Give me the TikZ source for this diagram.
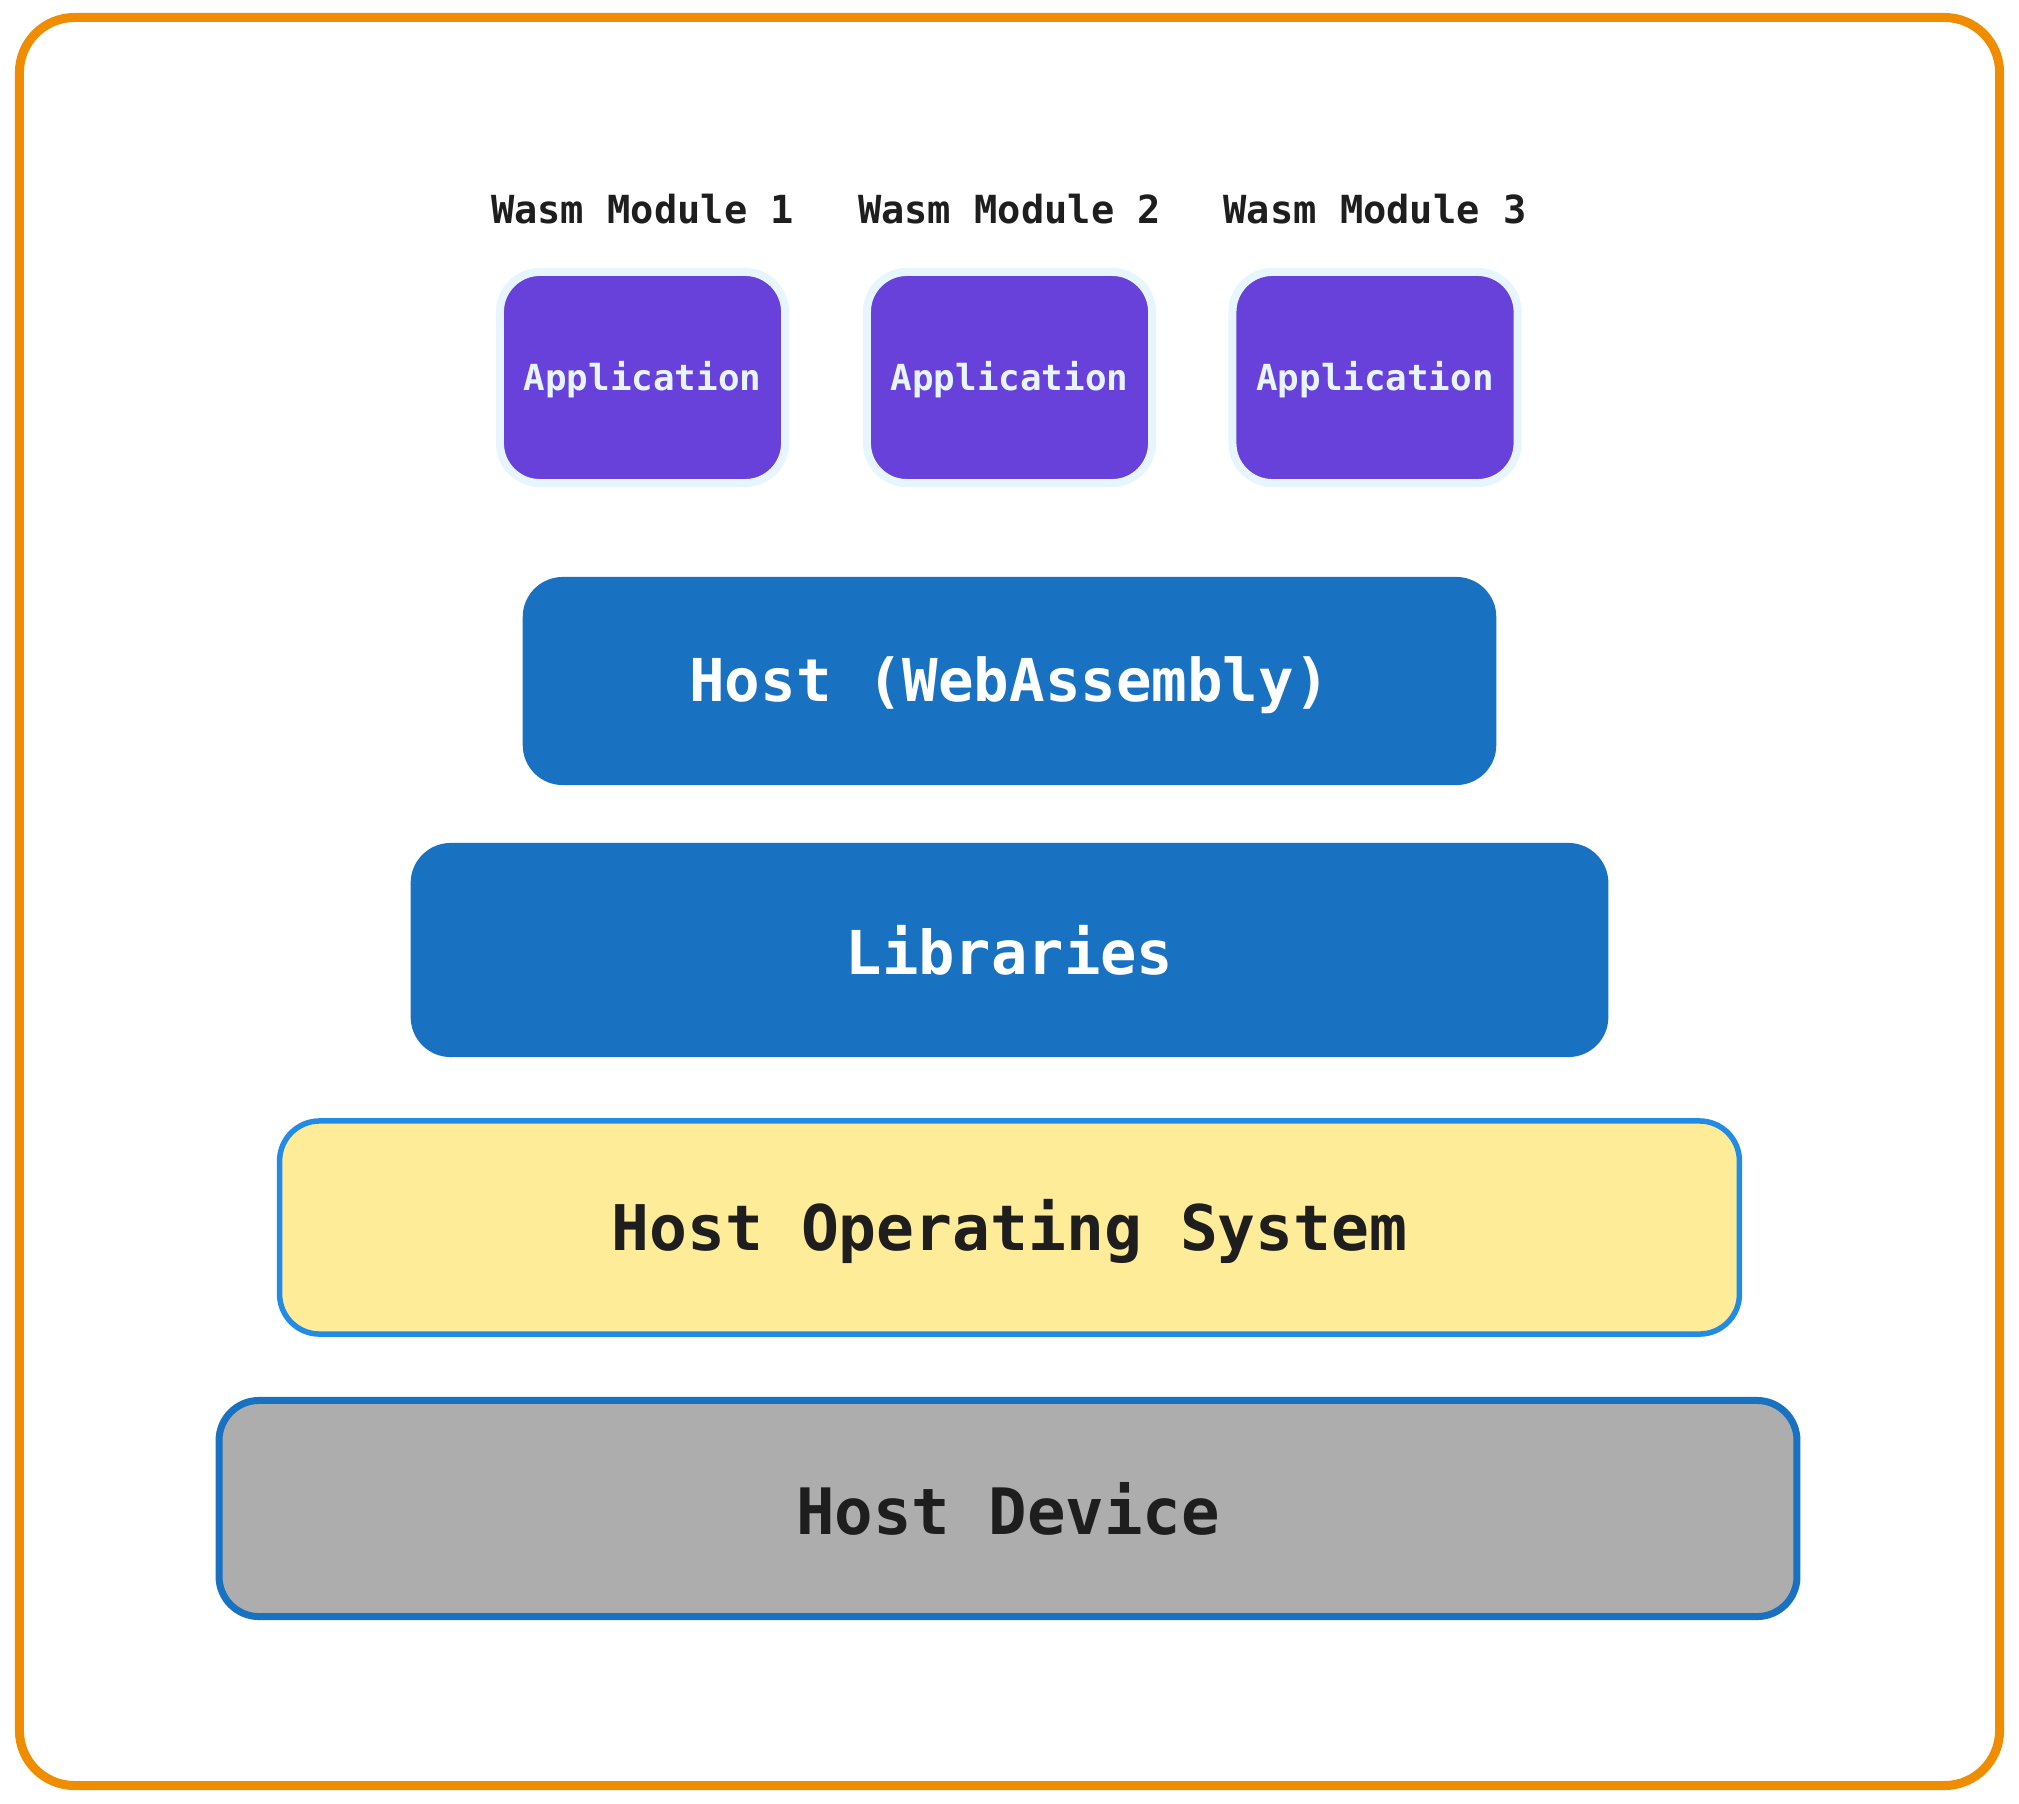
\documentclass[tikz,border=0pt]{standalone}
\usepackage{xcolor}
\usepackage{fontspec}
\setmonofont{DejaVu Sans Mono}
\usepackage{tikz}

\definecolor{framecol}{HTML}{F08C00}
\definecolor{appfill}{HTML}{6741D9}
\definecolor{appedge}{HTML}{E7F5FF}
\definecolor{hostblue}{HTML}{1971C2}
\definecolor{osfill}{HTML}{FFEC99}
\definecolor{osedge}{HTML}{228BE6}
\definecolor{devfill}{HTML}{ADADAD}
\definecolor{ink}{HTML}{1E1E1E}

\begin{document}
\begin{tikzpicture}[x=0.01cm,y=-0.01cm,
	app/.style={rounded corners=0.4cm,fill=appfill,draw=appedge,line width=0.08cm,minimum width=2.85cm,minimum height=2.11cm,text=appedge,text height=10pt,text depth=2.5pt,font=\ttfamily\bfseries\fontsize{10.2}{12}\selectfont},
	modlabel/.style={text=ink,font=\ttfamily\bfseries\fontsize{11}{13}\selectfont},
	layer/.style={rounded corners=0.4cm}]
	\useasboundingbox (0,0) rectangle (2019,1803);
	\node[draw=framecol,line width=0.09cm,rounded corners=0.55cm,minimum width=19.79cm,minimum height=17.67cm] (frame) at (1009.5,901.5) {};

	\node[modlabel] (m1) at (642.5,208.6) {Wasm Module 1};
	\node[modlabel] (m2) at (1009.5,208.6) {Wasm Module 2};
	\node[modlabel] (m3) at (1375,208.6) {Wasm Module 3};

	\node[app] (app1) at (642.5,377.5) {Application};
	\node[app] (app2) at (1009.5,377.5) {Application};
	\node[app] (app3) at (1375,377.5) {Application};

	\node[layer,fill=hostblue,text=white,minimum width=9.73cm,minimum height=2.08cm,text height=15pt,text depth=3.5pt,font=\ttfamily\bfseries\fontsize{16.8}{20}\selectfont] (wasm) at (1009.5,681) {Host (WebAssembly)};
	\node[layer,fill=hostblue,text=white,minimum width=11.97cm,minimum height=2.14cm,font=\ttfamily\bfseries\fontsize{17.2}{20}\selectfont] (libs) at (1009.5,950) {Libraries};
	\node[layer,fill=osfill,draw=osedge,line width=0.055cm,text=ink,minimum width=14.59cm,minimum height=2.13cm,text height=17pt,text depth=4pt,font=\ttfamily\bfseries\fontsize{17.9}{20}\selectfont] (os) at (1009.5,1227.5) {Host Operating System};
	\node[layer,fill=devfill,draw=hostblue,line width=0.07cm,text=ink,minimum width=15.77cm,minimum height=2.16cm,font=\ttfamily\bfseries\fontsize{18.2}{20}\selectfont] (dev) at (1008,1508.5) {Host Device};

\end{tikzpicture}
\end{document}
